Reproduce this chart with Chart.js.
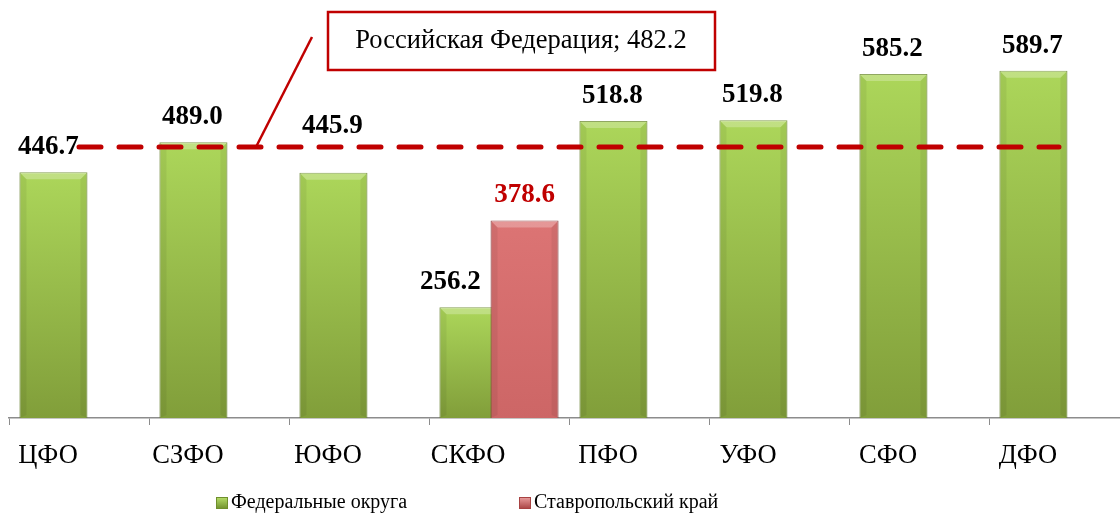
<!DOCTYPE html>
<html>
<head>
<meta charset="utf-8">
<style>
  html, body { margin: 0; padding: 0; background: #fff; overflow: hidden; }
  #chart { display: block; }
</style>
<script src="https://cdn.jsdelivr.net/npm/chart.js@4"></script>
</head>
<body>
<canvas id="chart" width="1130" height="518"></canvas>
<script>
// categories and values
const districts = ['ЦФО', 'СЗФО', 'ЮФО', 'СКФО', 'ПФО', 'УФО', 'СФО', 'ДФО'];
const districtValues = [446.7, 489.0, 445.9, 256.2, 518.8, 519.8, 585.2, 589.7];
const stavropolValues = [null, null, null, 378.6, null, null, null, null];
const russiaAverage = 482.2;
const russiaLabel = 'Российская Федерация';
const seriesNames = ['Федеральные округа', 'Ставропольский край'];

const serif = '"Liberation Serif", "Times New Roman", serif';

// bar fill: light at the top of each bar, darker near the base
function barGradient(ctx, top, bottom, light, dark) {
  const g = ctx.createLinearGradient(0, top, 0, bottom);
  g.addColorStop(0, light);
  g.addColorStop(1, dark);
  return g;
}

function barFill(light, dark) {
  return function (context) {
    const chart = context.chart;
    if (!chart.chartArea || context.raw == null) return dark;
    const y = chart.scales.y;
    return barGradient(chart.ctx, y.getPixelForValue(context.raw), chart.chartArea.bottom, light, dark);
  };
}

function drawBevel(chart, i) {
  const ctx = chart.ctx;
  const bottom = chart.chartArea.bottom;
  chart.getDatasetMeta(i).data.forEach((bar, j) => {
    if (chart.data.datasets[i].data[j] == null) return;
    const left = bar.x - bar.width / 2, right = bar.x + bar.width / 2;
    const top = bar.y;
    const b = 7;
    ctx.save();
    ctx.fillStyle = 'rgba(255,255,255,0.25)';
    ctx.beginPath();
    ctx.moveTo(left, top); ctx.lineTo(right, top);
    ctx.lineTo(right - b, top + b); ctx.lineTo(left + b, top + b);
    ctx.closePath(); ctx.fill();
    ctx.fillStyle = 'rgba(0,0,0,0.06)';
    ctx.beginPath();
    ctx.moveTo(left, top); ctx.lineTo(left + b, top + b);
    ctx.lineTo(left + b, bottom - 3); ctx.lineTo(left, bottom);
    ctx.closePath(); ctx.fill();
    ctx.beginPath();
    ctx.moveTo(right, top); ctx.lineTo(right - b, top + b);
    ctx.lineTo(right - b, bottom - 3); ctx.lineTo(right, bottom);
    ctx.closePath(); ctx.fill();
    ctx.restore();
  });
}

// the red bar sits in the second slot but is painted over the green one
const drawOrderPlugin = {
  id: 'drawOrder',
  beforeDatasetDraw(chart, args) {
    if (args.index === 1 && !chart.$redNow) return false;
  },
  afterDatasetDraw(chart, args) {
    if (args.index === 0) {
      drawBevel(chart, 0);
      chart.$redNow = true;
      chart._drawDataset(chart.getDatasetMeta(1));
      chart.$redNow = false;
    } else if (args.index === 1) {
      drawBevel(chart, 1);
    }
  }
};

// value labels above bars, callout box and legend
const labelsPlugin = {
  id: 'labels',
  afterDraw(chart) {
    const ctx = chart.ctx;
    const yScale = chart.scales.y;
    ctx.save();
    ctx.font = 'bold 27px ' + serif;
    ctx.textAlign = 'center';
    ctx.textBaseline = 'alphabetic';
    chart.getDatasetMeta(0).data.forEach((bar, j) => {
      let x = bar.x - 1;
      let y = bar.y - 18;
      if (stavropolValues[j] != null) x -= 22;
      if (j === 0) x -= 4;
      if (j === 2) y -= 22; // lifted above the dashed line in the original
      ctx.fillStyle = '#000';
      ctx.fillText(districtValues[j].toFixed(1), x, y);
    });
    chart.getDatasetMeta(1).data.forEach((bar, j) => {
      if (stavropolValues[j] == null) return;
      ctx.fillStyle = '#c00000';
      ctx.fillText(stavropolValues[j].toFixed(1), bar.x, bar.y - 18);
    });

    // callout for the Russian average
    const lineY = yScale.getPixelForValue(russiaAverage);
    ctx.strokeStyle = '#c00000';
    ctx.lineWidth = 2.5;
    ctx.beginPath();
    ctx.moveTo(312, 37);
    ctx.lineTo(256, lineY);
    ctx.stroke();
    ctx.fillStyle = '#fff';
    ctx.fillRect(328, 12, 387, 58);
    ctx.strokeRect(328, 12, 387, 58);
    ctx.fillStyle = '#000';
    ctx.font = '26.5px ' + serif;
    ctx.textBaseline = 'middle';
    ctx.fillText(russiaLabel + '; ' + russiaAverage.toFixed(1), 521, 41);

    // legend
    const items = [
      { x: 216, light: '#b8e06a', dark: '#6f8f2c', text: seriesNames[0] },
      { x: 519, light: '#eba0a0', dark: '#a84242', text: seriesNames[1] }
    ];
    ctx.font = '20px ' + serif;
    ctx.textAlign = 'left';
    items.forEach(it => {
      const by = 497;
      ctx.fillStyle = barGradient(ctx, by, by + 12, it.light, it.dark);
      ctx.fillRect(it.x, by, 12, 12);
      ctx.strokeStyle = it.dark;
      ctx.lineWidth = 1;
      ctx.strokeRect(it.x + 0.5, by + 0.5, 11, 11);
      ctx.fillStyle = '#000';
      ctx.fillText(it.text, it.x + 15, by + 6);
    });
    ctx.restore();
  }
};

new Chart(document.getElementById('chart'), {
  type: 'bar',
  data: {
    labels: districts,
    datasets: [
      {
        label: seriesNames[0],
        data: districtValues,
        backgroundColor: barFill('#acd65a', '#819e3a'),
        borderColor: '#6b8a2c',
        borderWidth: 1,
        categoryPercentage: 0.73,
        barPercentage: 1.33,
        order: 1
      },
      {
        label: seriesNames[1],
        data: stavropolValues,
        backgroundColor: barFill('#dc7474', '#cd6666'),
        borderColor: '#8c3a3a',
        borderWidth: 1,
        categoryPercentage: 0.73,
        barPercentage: 1.33,
        order: 2
      },
      {
        type: 'line',
        label: russiaLabel,
        data: districts.map(() => russiaAverage),
        borderColor: '#c00000',
        borderWidth: 5,
        borderDash: [22, 18],
        borderCapStyle: 'round',
        pointRadius: 0,
        fill: false,
        order: 0
      }
    ]
  },
  options: {
    responsive: false,
    animation: false,
    layout: { padding: { left: 9, right: 1, top: 28, bottom: 45 } },
    plugins: {
      legend: { display: false },
      tooltip: { enabled: false }
    },
    scales: {
      x: {
        offset: true,
        afterFit: s => { s.height = 55; },
        grid: {
          offset: true,
          drawOnChartArea: false,
          color: '#8c8c8c',
          tickLength: 7
        },
        border: { color: '#8c8c8c', width: 1.5 },
        ticks: {
          color: '#000',
          padding: 15,
          labelOffset: -31,
          font: { family: serif, size: 26.5 }
        }
      },
      y: {
        display: false,
        min: 100,
        max: 650
      }
    }
  },
  plugins: [drawOrderPlugin, labelsPlugin]
});
</script>
</body>
</html>
